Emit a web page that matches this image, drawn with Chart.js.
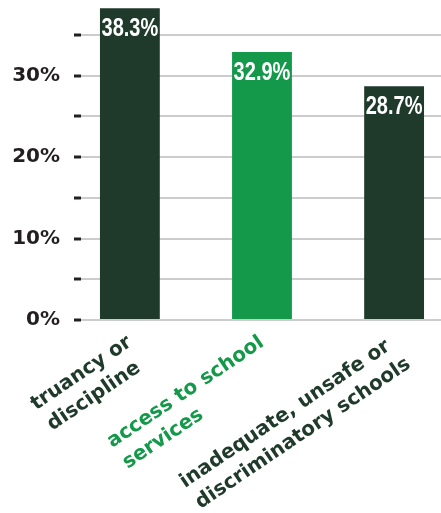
<!DOCTYPE html>
<html lang="en">
<head>
    <meta charset="UTF-8">
    <title>Reasons</title>
    <script src="https://cdn.jsdelivr.net/npm/chart.js"></script>
    <style>
        html, body { margin: 0; padding: 0; background: #ffffff; }
        #wrap { width: 441px; height: 513px; position: relative; overflow: hidden; }
    </style>
</head>
<body>
    <div id="wrap">
        <canvas id="reasonChart"></canvas>
    </div>

    <script>
        // data
        const categories = [
            ['truancy or', 'discipline'],
            ['access to school', 'services'],
            ['inadequate, unsafe or', 'discriminatory schools']
        ];
        const values = [38.3, 32.9, 28.7];
        const barColors = ['#1f3a2b', '#14984a', '#1f3a2b'];
        const yTicks = [0, 5, 10, 15, 20, 25, 30, 35];
        const yLabelled = [0, 10, 20, 30];

        const dark = '#231f20';
        const xFont = { family: '"DejaVu Sans", sans-serif', size: 20, weight: 'bold', lineHeight: 1.3 };

        // chart.js right-aligns rotated lines; pad shorter lines so they read left-aligned
        const measureCtx = document.createElement('canvas').getContext('2d');
        measureCtx.font = 'bold 20px "DejaVu Sans", sans-serif';
        function padLines(lines) {
            const widths = lines.map(l => measureCtx.measureText(l).width);
            const longest = Math.max(...widths);
            const space = measureCtx.measureText(' ').width;
            return lines.map((l, i) => l + ' '.repeat(Math.round((longest - widths[i]) / space)));
        }

        // white value text at the top of each bar
        const barValues = {
            id: 'barValues',
            afterDatasetsDraw(chart) {
                const ctx = chart.ctx;
                const meta = chart.getDatasetMeta(0);
                meta.data.forEach((bar, i) => {
                    ctx.save();
                    ctx.fillStyle = '#ffffff';
                    ctx.font = 'bold 26px "Liberation Sans", Arial, sans-serif';
                    ctx.textAlign = 'center';
                    ctx.textBaseline = 'alphabetic';
                    ctx.translate(bar.x, bar.y + 28);
                    ctx.scale(0.77, 1);
                    ctx.fillText(values[i].toFixed(1) + '%', 0, 0);
                    ctx.restore();
                });
            }
        };

        function createReasonChart() {
            const ctx = document.getElementById('reasonChart').getContext('2d');

            new Chart(ctx, {
                type: 'bar',
                data: {
                    datasets: [{
                        data: values.map((v, i) => ({ x: i, y: v })),
                        backgroundColor: barColors,
                        borderWidth: 0,
                        barPercentage: 0.453,
                        categoryPercentage: 1
                    }]
                },
                options: {
                    responsive: true,
                    maintainAspectRatio: false,
                    animation: false,
                    layout: { padding: 0 },
                    plugins: {
                        legend: { display: false },
                        tooltip: { enabled: false }
                    },
                    scales: {
                        x: {
                            type: 'linear',
                            offset: false,
                            min: -0.37,
                            max: 2.355,
                            grid: { display: false },
                            border: { display: false },
                            afterBuildTicks(scale) {
                                scale.ticks = categories.map((c, i) => ({ value: i }));
                            },
                            afterFit(scale) {
                                scale.height = 193;
                                scale.paddingLeft = 0;
                                scale.paddingRight = 0;
                            },
                            ticks: {
                                autoSkip: false,
                                minRotation: 34,
                                maxRotation: 34,
                                padding: 2,
                                color: (c) => barColors[c.index] || dark,
                                font: xFont,
                                callback: (value) => categories[value] ? padLines(categories[value]) : ''
                            }
                        },
                        y: {
                            min: 0,
                            max: 39.3,
                            border: { display: false },
                            afterBuildTicks(scale) {
                                scale.ticks = yTicks.map(v => ({ value: v }));
                            },
                            afterFit(scale) {
                                scale.width = 81;
                                scale.paddingTop = 0;
                                scale.paddingBottom = 0;
                            },
                            grid: {
                                color: '#cccccc',
                                lineWidth: 2,
                                drawTicks: true,
                                tickLength: 7,
                                tickColor: dark,
                                tickWidth: 3
                            },
                            ticks: {
                                padding: 14,
                                color: dark,
                                font: { family: '"DejaVu Sans", sans-serif', size: 20, weight: 'bold' },
                                callback: (value) => yLabelled.includes(value) ? value + '%' : ''
                            }
                        }
                    }
                },
                plugins: [barValues]
            });
        }

        document.addEventListener('DOMContentLoaded', function() {
            createReasonChart();
        });
    </script>
</body>
</html>
